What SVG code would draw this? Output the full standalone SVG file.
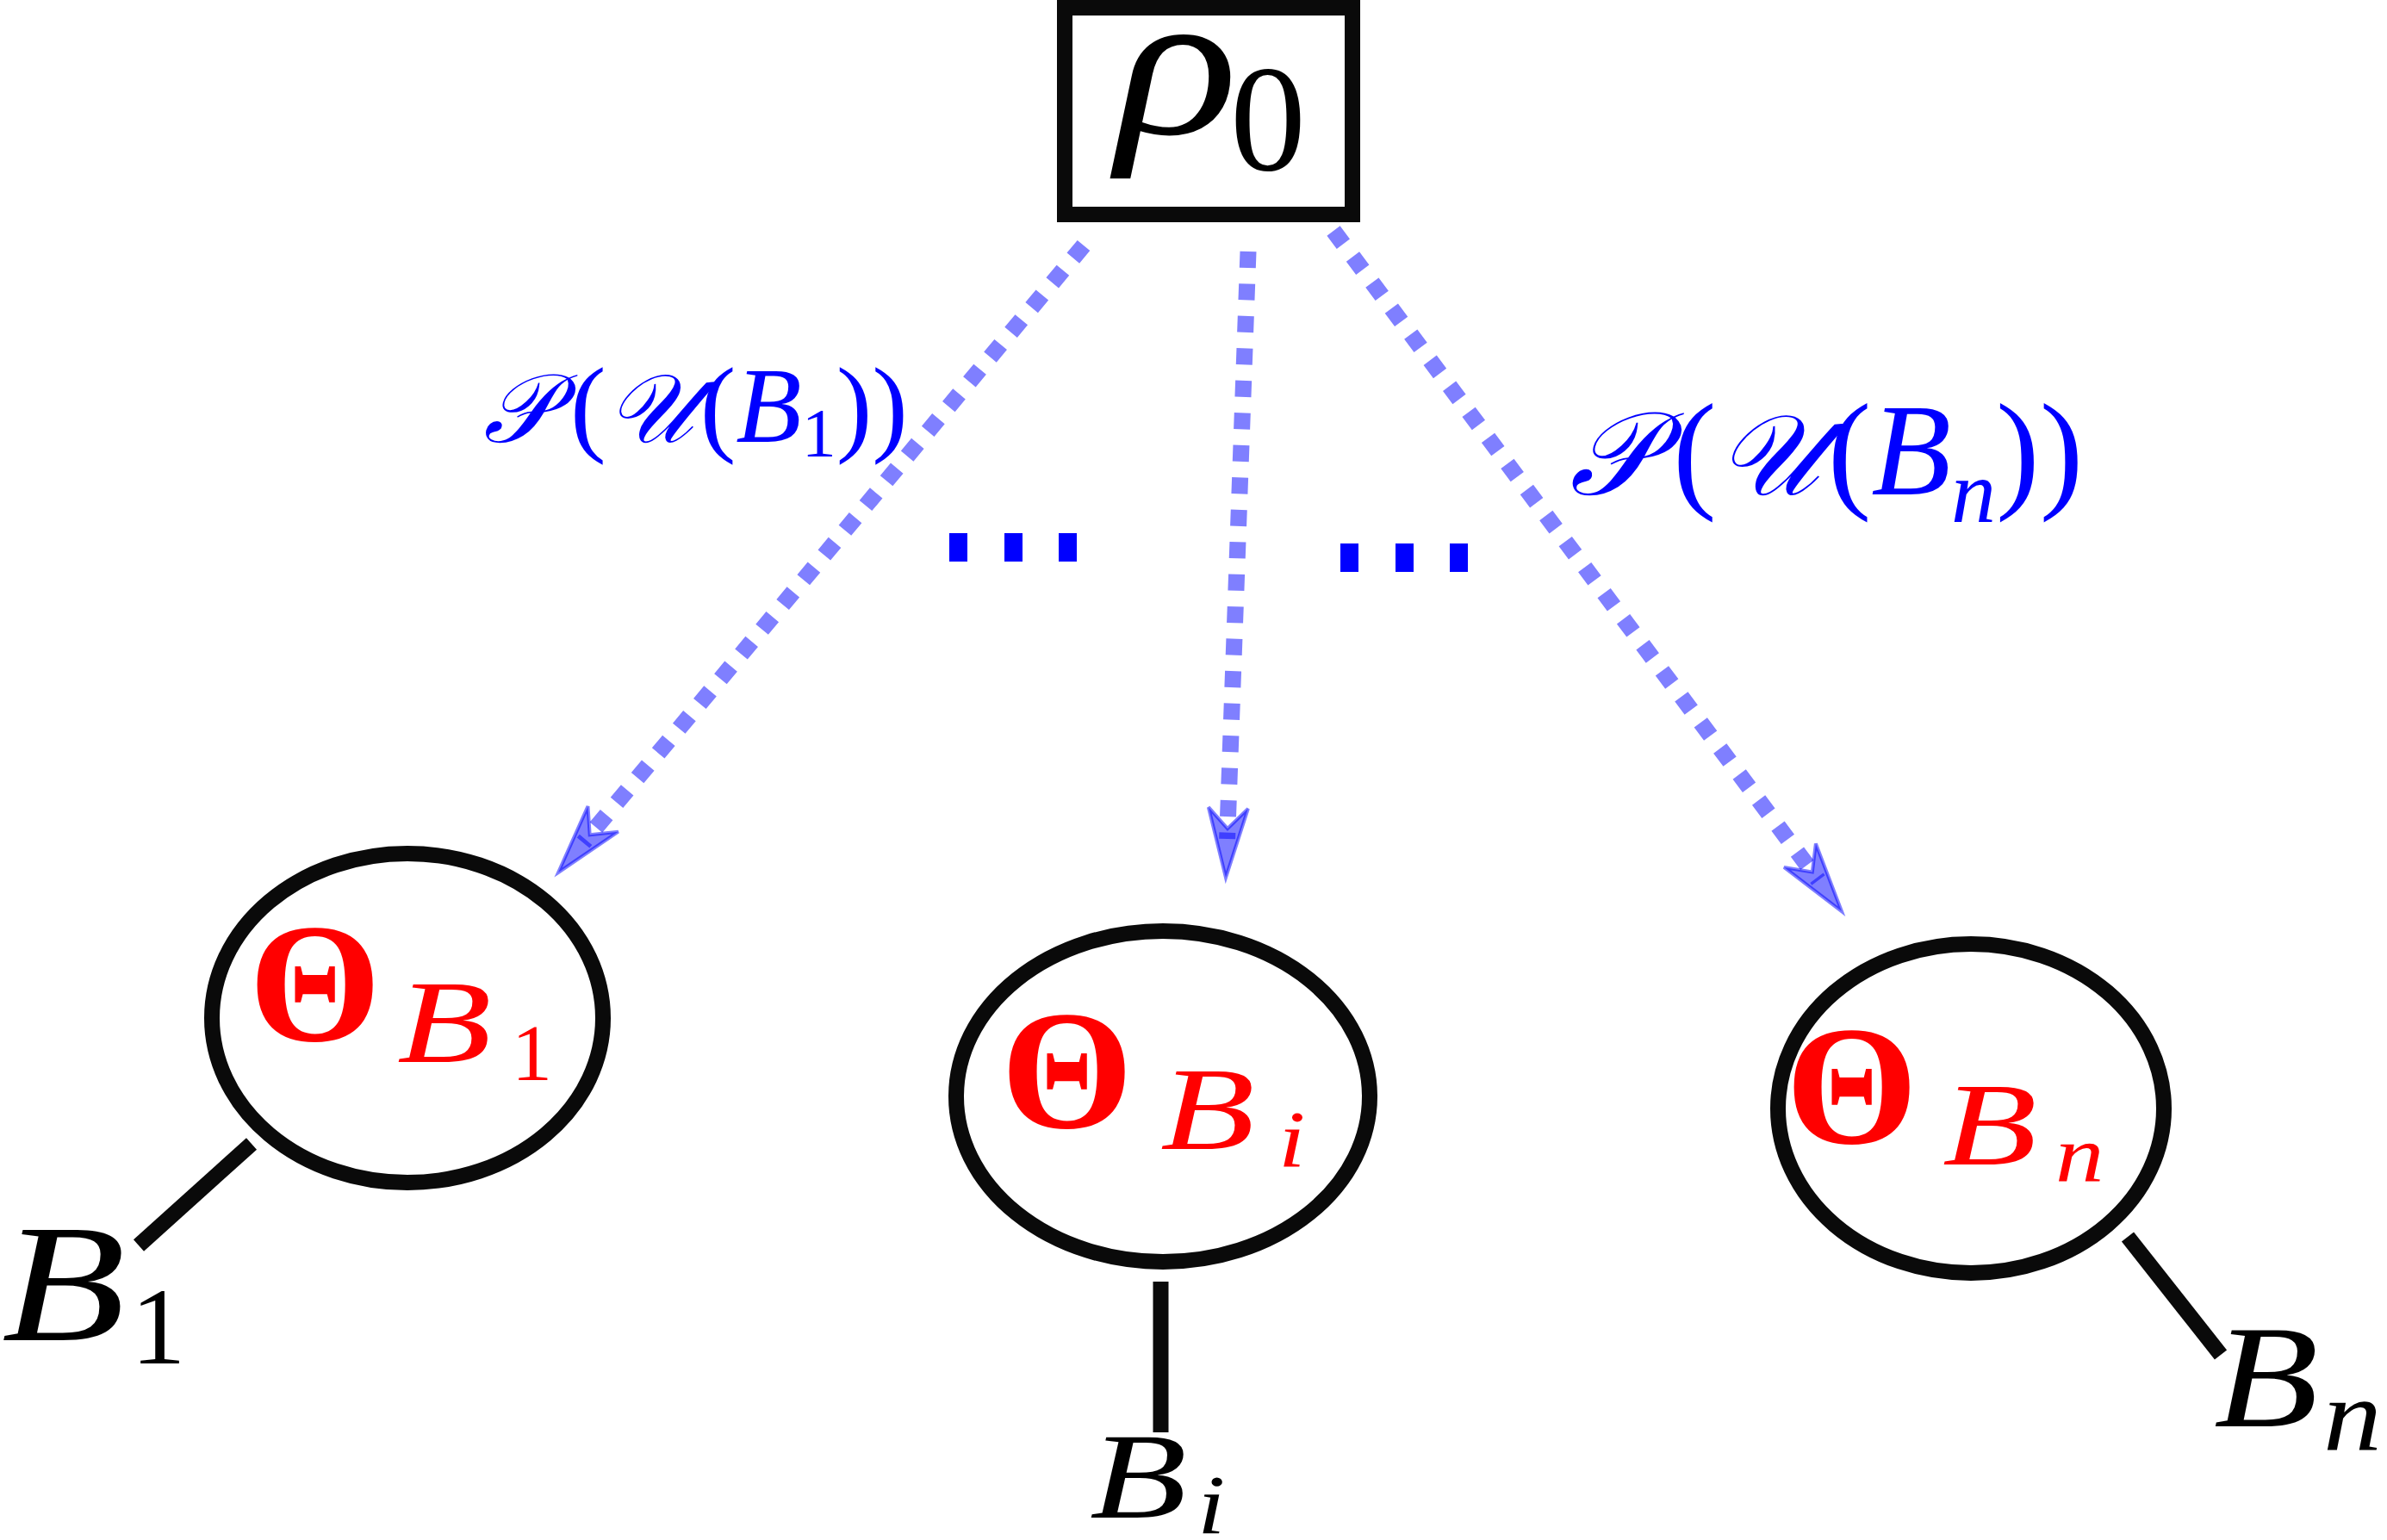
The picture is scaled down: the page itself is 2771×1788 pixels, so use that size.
<svg xmlns="http://www.w3.org/2000/svg" width="2771" height="1788" viewBox="0 0 2771 1788">
<style>
text{font-family:"Liberation Serif","Times New Roman","DejaVu Serif",serif;}
.it{font-style:italic;}
.red{fill:#ff0000;}
.blk{fill:#000;}
.blue{fill:#0000ff;}
.node{fill:#fff;stroke:#0a0a0a;stroke-width:18;}
.conn{stroke:#0a0a0a;stroke-width:18;fill:none;}
.dot{stroke:#0000ff;stroke-opacity:0.5;stroke-width:19;stroke-dasharray:19 18.5;fill:none;}
.th{font-weight:bold;font-size:197px;}
.sb{font-size:138px;font-style:italic;}
.ss{font-size:94px;}
</style>
<defs>
<marker id="ah" markerUnits="userSpaceOnUse" markerWidth="200" markerHeight="200" viewBox="-100 -100 200 200" refX="0" refY="0" orient="auto" overflow="visible">
<path d="M45,0 L-36,-23 L-12,0 L-36,23 Z" fill="#0000ff" fill-opacity="0.5" stroke="#0000ff" stroke-opacity="0.5" stroke-width="4" stroke-linejoin="miter"/>
</marker>
</defs>
<rect width="2771" height="1788" fill="#fff"/>

<g id="connectors">
<path class="dot" d="M1258,285 L677,978.5" marker-end="url(#ah)"/>
<path class="dot" d="M1449,292 L1424.6,974" marker-end="url(#ah)"/>
<path class="dot" d="M1548,268 L2111,1022" marker-end="url(#ah)"/>
<line class="conn" x1="292" y1="1328" x2="161" y2="1446"/>
<line class="conn" x1="1347.5" y1="1488" x2="1347.5" y2="1663"/>
<line class="conn" x1="2470" y1="1436" x2="2578" y2="1573"/>
</g>

<g id="rho0">
<rect class="node" x="1236" y="9" width="334" height="240"/>
<text class="it blk" font-size="245" transform="translate(1296,155) scale(1.2,1)">ρ</text>
<text class="blk" x="1428" y="197" font-size="176">0</text>
</g>

<g id="label-left" class="blue">
<text x="561" y="513" font-size="125"><tspan class="it" font-size="112">𝒫</tspan><tspan dx="20">(</tspan><tspan class="it" font-size="112">𝒰</tspan><tspan dx="8">(</tspan><tspan class="it">B</tspan><tspan y="530" font-size="80">1</tspan><tspan y="513">))</tspan></text>
</g>
<g id="label-right" class="blue">
<text x="1822" y="574" font-size="152"><tspan class="it" font-size="136">𝒫</tspan><tspan dx="22">(</tspan><tspan class="it" font-size="132">𝒰</tspan><tspan dx="10">(</tspan><tspan class="it">B</tspan><tspan y="606" font-size="104" class="it">n</tspan><tspan y="574">))</tspan></text>
</g>

<g id="dots-left" fill="#0000ff">
<rect x="1102" y="619" width="21" height="33"/>
<rect x="1166" y="619" width="21" height="33"/>
<rect x="1229" y="619" width="21" height="33"/>
</g>
<g id="dots-right" fill="#0000ff">
<rect x="1556" y="631" width="21" height="33"/>
<rect x="1620" y="631" width="21" height="33"/>
<rect x="1683" y="631" width="21" height="33"/>
</g>

<g id="node-B1" class="red">
<ellipse class="node" cx="473" cy="1182" rx="227" ry="191"/>
<text class="th" x="289" y="1208">Θ</text>
<text class="sb" transform="translate(461,1233) scale(1.3,1)">B</text>
<text class="ss" x="594" y="1254">1</text>
</g>
<g id="node-Bi" class="red">
<ellipse class="node" cx="1350" cy="1273" rx="240" ry="192"/>
<text class="th" x="1162" y="1309">Θ</text>
<text class="sb" transform="translate(1347,1334) scale(1.3,1)">B</text>
<text class="ss it" transform="translate(1484,1354) scale(1.2,1)">i</text>
</g>
<g id="node-Bn" class="red">
<ellipse class="node" cx="2288" cy="1287" rx="224" ry="191"/>
<text class="th" x="2073" y="1327">Θ</text>
<text class="sb" transform="translate(2255,1352) scale(1.3,1)">B</text>
<text class="ss it" transform="translate(2386,1372) scale(1.2,1)">n</text>
</g>

<g id="leaf-B1" class="blk">
<text class="it" font-size="196" transform="translate(2,1556) scale(1.2,1)">B</text>
<text x="152" y="1583" font-size="127">1</text>
</g>
<g id="leaf-Bi" class="blk">
<text class="it" font-size="142" transform="translate(1265,1762) scale(1.3,1)">B</text>
<text class="it" font-size="97" transform="translate(1390,1780) scale(1.2,1)">i</text>
</g>
<g id="leaf-Bn" class="blk">
<text class="it" font-size="170" transform="translate(2570,1656) scale(1.17,1)">B</text>
<text class="it" font-size="118" transform="translate(2697,1683) scale(1.15,1)">n</text>
</g>
</svg>
